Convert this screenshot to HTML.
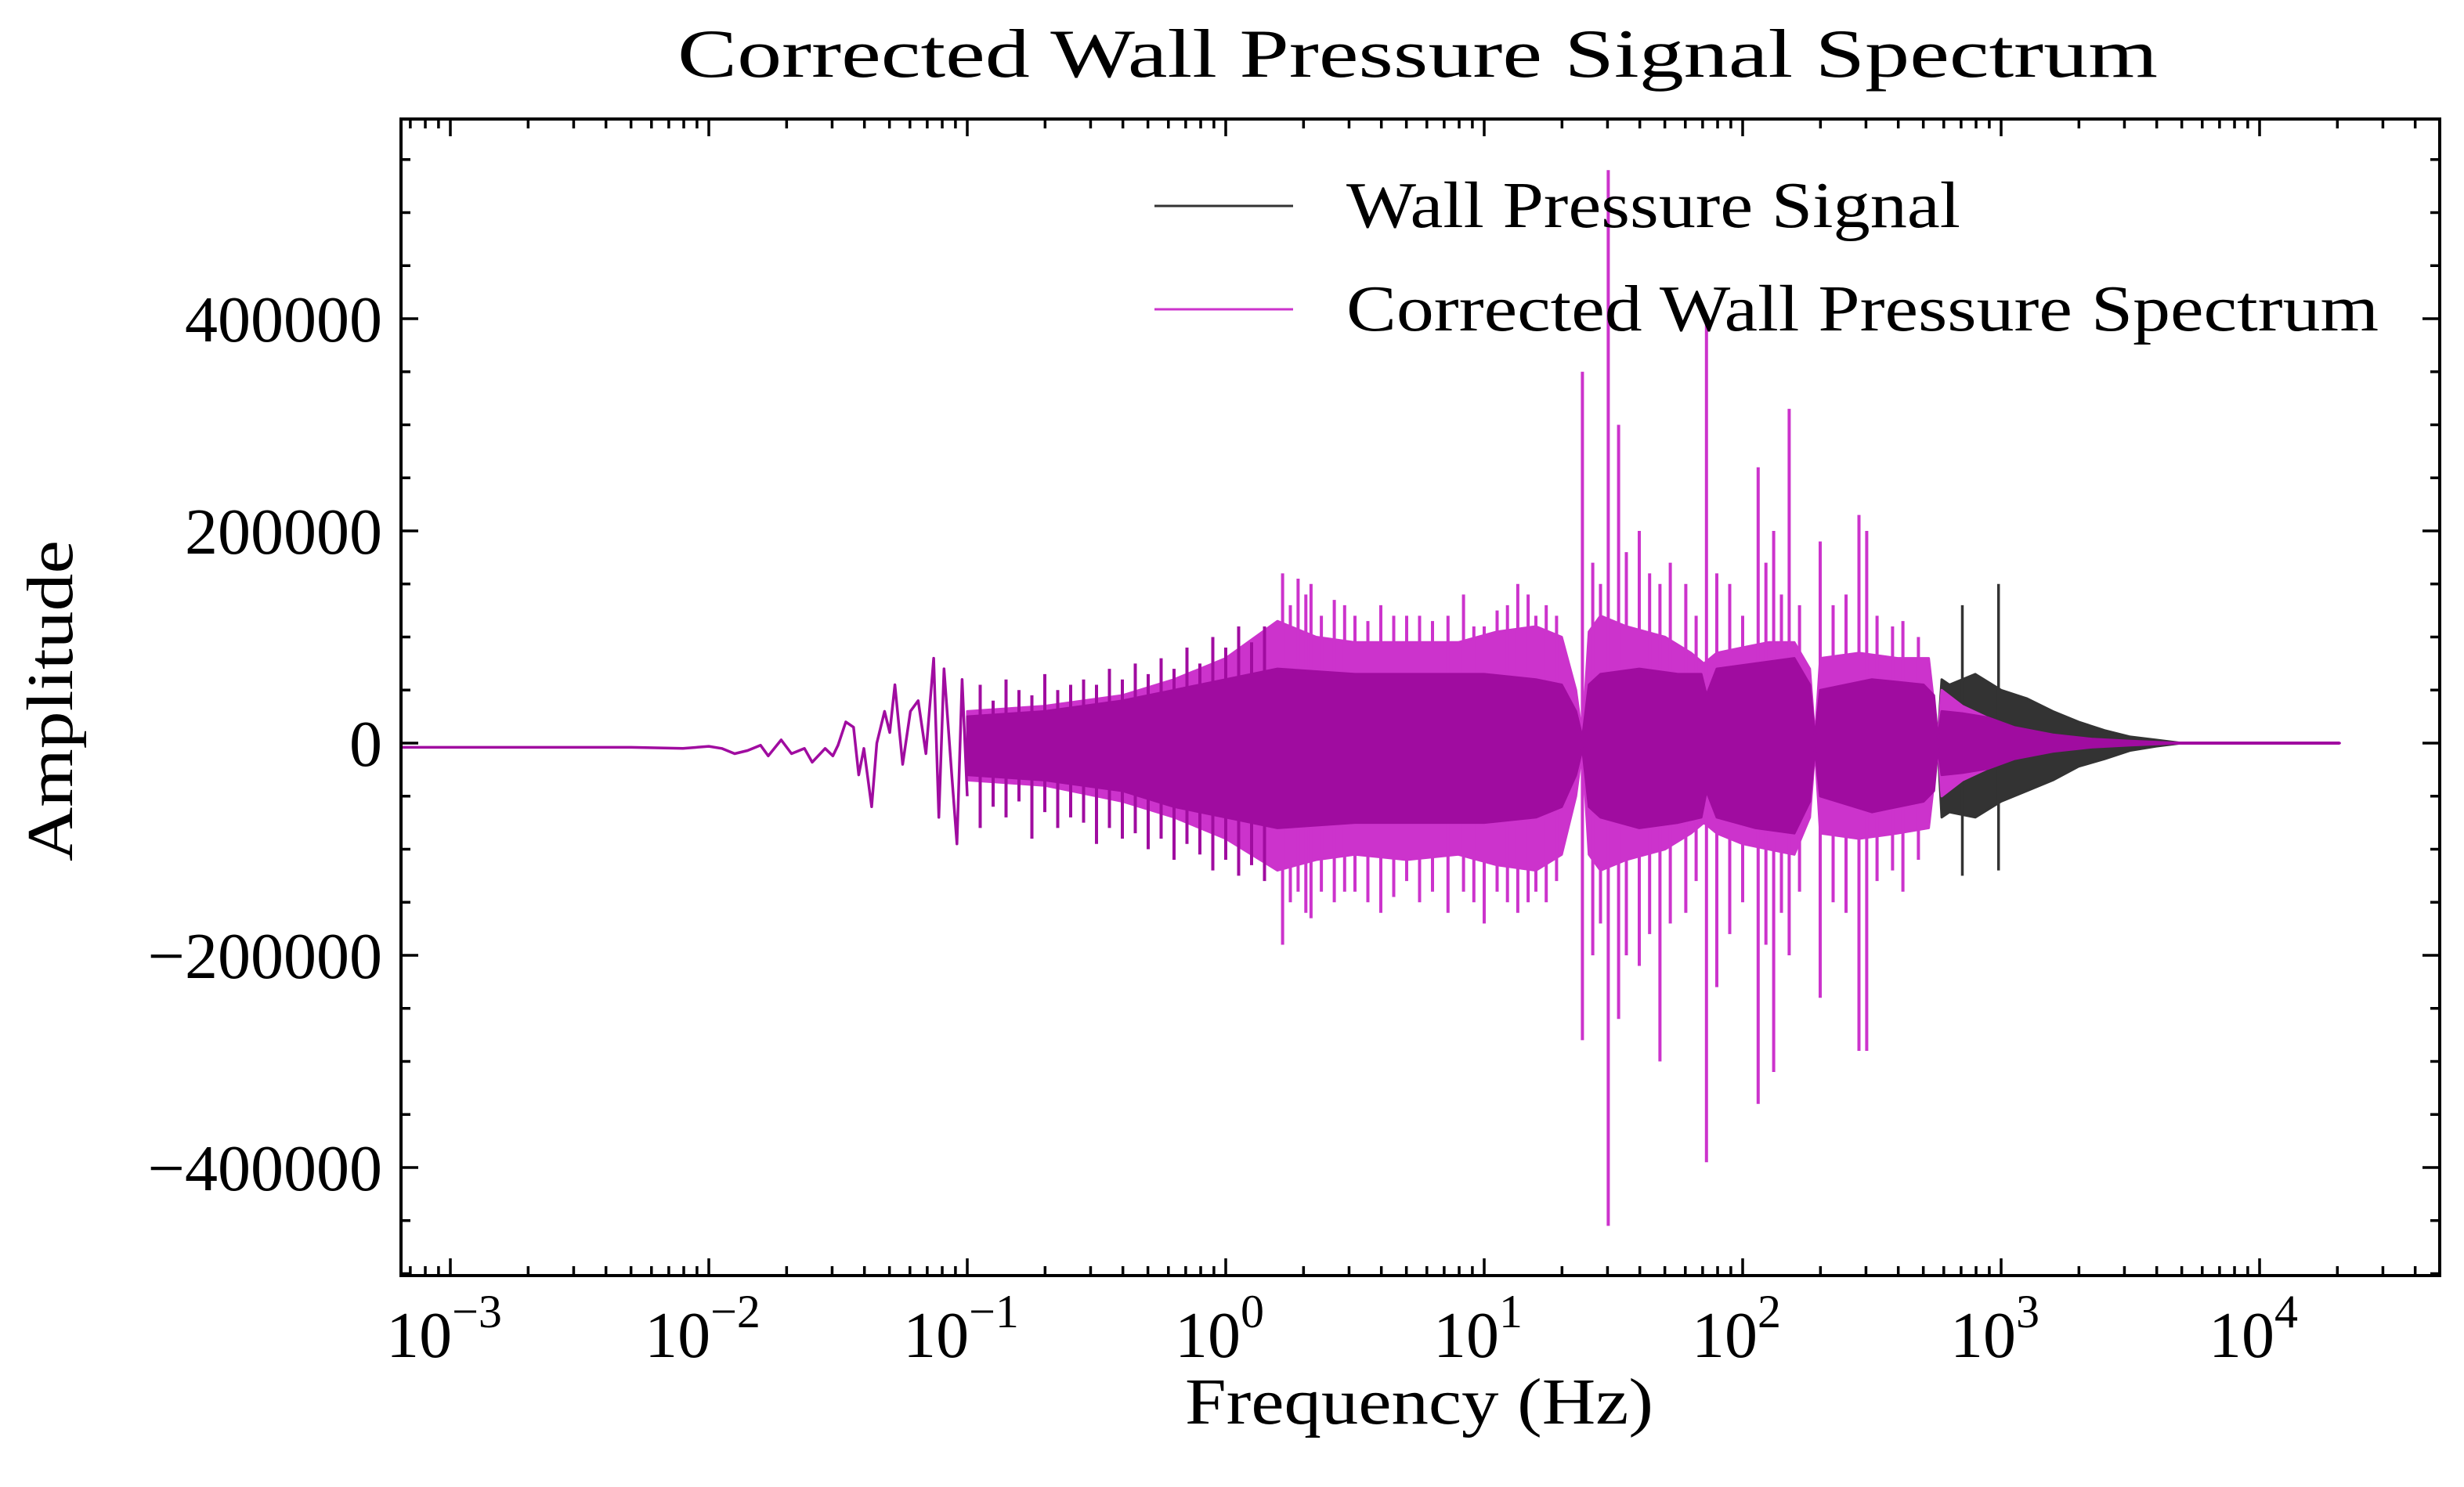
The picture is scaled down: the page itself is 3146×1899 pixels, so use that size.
<!DOCTYPE html>
<html><head><meta charset="utf-8"><style>
html,body{margin:0;padding:0;background:#fff;}
svg{display:block;}
text{font-family:"Liberation Serif",serif;fill:#000;}
</style></head><body>
<svg id="chart" width="3146" height="1899" viewBox="0 0 3146 1899" xmlns="http://www.w3.org/2000/svg">
<rect width="3146" height="1899" fill="#fff"/>
<g id="plot"></g>
<g id="axes"></g>
<text x="1810" y="98" font-size="88" text-anchor="middle" textLength="1890" lengthAdjust="spacingAndGlyphs">Corrected Wall Pressure Signal Spectrum</text>
<text x="1812" y="1818" font-size="84" text-anchor="middle" textLength="598" lengthAdjust="spacingAndGlyphs">Frequency (Hz)</text>
<text x="0" y="0" font-size="84" text-anchor="middle" textLength="410" lengthAdjust="spacingAndGlyphs" transform="translate(92,895) rotate(-90)">Amplitude</text>
<g>
  <line x1="1474" y1="263" x2="1651" y2="263" stroke="#333" stroke-width="3"/>
  <text x="1719" y="290" font-size="84" textLength="784" lengthAdjust="spacingAndGlyphs">Wall Pressure Signal</text>
  <line x1="1474" y1="395" x2="1651" y2="395" stroke="#cc33cc" stroke-width="3"/>
  <text x="1719" y="422" font-size="84" textLength="1318" lengthAdjust="spacingAndGlyphs">Corrected Wall Pressure Spectrum</text>
</g>
</svg>
<script>
// ---- data (log10 frequency, amplitude in thousands) ----
const lowLogF = [-3.19,-2.3,-2.1,-2.0,-1.95,-1.9,-1.85,-1.8,-1.77,-1.72,-1.68,-1.63,-1.6,-1.55,-1.52,-1.5,-1.47,-1.44,-1.42,-1.4,-1.37,-1.35,-1.32,-1.3,-1.28,-1.25,-1.22,-1.19,-1.16,-1.13,-1.11,-1.09,-1.06,-1.04,-1.02,-1.0];
const lowVal  = [-4,-4,-5,-3,-5,-10,-7,-2,-12,3,-10,-5,-18,-5,-12,-2,20,15,-30,-5,-60,0,30,10,55,-20,30,40,-10,80,-70,70,-30,-95,60,-50];

const outerLogF = [-1.0,-0.7,-0.4,-0.2,0.0,0.2,0.35,0.5,0.7,0.9,1.05,1.2,1.3,1.355,1.38,1.405,1.45,1.55,1.7,1.8,1.85,1.9,2.0,2.1,2.2,2.26,2.28,2.3,2.45,2.6,2.72,2.755,2.77,2.85,3.0,3.15,3.3,3.45,3.6,4.31];
const outerHi   = [30,35,45,60,80,115,100,95,95,95,105,110,100,50,5,105,120,110,100,85,75,85,90,95,95,70,5,80,85,80,80,5,50,35,18,8,4,2,0,0];
const outerLo   = [-35,-40,-55,-70,-90,-120,-110,-105,-110,-105,-115,-120,-105,-50,-5,-105,-120,-110,-100,-85,-75,-85,-95,-100,-105,-70,-5,-85,-90,-85,-80,-5,-50,-35,-18,-8,-4,-2,0,0];

const coreLogF = [-1.0,-0.7,-0.4,-0.2,0.0,0.2,0.5,0.8,1.0,1.2,1.3,1.355,1.38,1.405,1.45,1.6,1.75,1.84,1.86,1.9,2.05,2.2,2.26,2.28,2.3,2.5,2.7,2.74,2.755,2.77,2.85,2.95,3.05,3.2,3.35,3.5,3.7,4.31];
const coreHi   = [25,30,40,50,60,70,65,65,65,60,55,30,5,55,65,70,65,65,45,70,75,80,55,5,50,60,55,45,5,30,28,24,15,8,4,2,0,0];
const coreLo   = [-30,-35,-45,-60,-70,-80,-75,-75,-75,-70,-60,-30,-5,-60,-70,-80,-75,-70,-45,-70,-80,-85,-55,-5,-50,-65,-55,-45,-5,-30,-28,-24,-15,-8,-4,-2,0,0];

const blackLogF = [2.755,2.77,2.8,2.9,3.0,3.1,3.2,3.3,3.4,3.5,3.6,3.7];
const blackHi   = [5,60,55,65,50,42,30,20,12,6,3,0];
const blackLo   = [-5,-70,-65,-70,-55,-45,-35,-22,-15,-7,-3,0];

const spikeLogF = [0.22,0.25,0.28,0.31,0.33,0.37,0.42,0.46,0.5,0.55,0.6,0.65,0.7,0.75,0.8,0.86,0.92,0.96,1.0,1.05,1.09,1.13,1.17,1.2,1.24,1.28,1.38,1.42,1.45,1.48,1.52,1.55,1.6,1.64,1.68,1.72,1.78,1.82,1.86,1.9,1.95,2.0,2.06,2.09,2.12,2.15,2.18,2.22,2.3,2.35,2.4,2.45,2.48,2.52,2.58,2.62,2.68];
const spikeHi   = [160,130,155,140,150,120,135,130,120,115,130,120,120,120,115,120,140,110,110,125,130,150,140,120,130,120,350,170,150,540,300,180,200,160,150,170,150,120,400,160,150,120,260,170,200,140,315,130,190,130,140,215,200,120,110,115,100];
const spikeLo   = [-190,-150,-140,-160,-165,-140,-150,-140,-140,-150,-160,-145,-130,-150,-140,-160,-140,-150,-170,-140,-150,-160,-150,-140,-150,-130,-280,-200,-170,-455,-260,-200,-210,-180,-300,-170,-160,-130,-395,-230,-180,-150,-340,-190,-310,-160,-200,-140,-240,-150,-160,-290,-290,-130,-120,-140,-110];

const coreSpikeLogF = [-0.95,-0.9,-0.85,-0.8,-0.75,-0.7,-0.65,-0.6,-0.55,-0.5,-0.45,-0.4,-0.35,-0.3,-0.25,-0.2,-0.15,-0.1,-0.05,0.0,0.05,0.1,0.15];
const coreSpikeHi   = [55,40,60,50,45,65,50,55,60,55,70,60,75,65,80,70,90,75,100,90,110,95,110];
const coreSpikeLo   = [-80,-60,-70,-55,-90,-65,-80,-70,-75,-95,-80,-90,-85,-100,-90,-110,-95,-105,-120,-110,-125,-115,-130];

const blackSpikeLogF = [2.85,2.99];
const blackSpikeHi   = [130,150];
const blackSpikeLo   = [-125,-120];

const yTickVals = [-400000,-200000,0,200000,400000];
const yTickLabels = ["\u2212400000","\u2212200000","0","200000","400000"];
const xTickExps = [-3,-2,-1,0,1,2,3,4];
const xTickLabels = ["\u22123","\u22122","\u22121","0","1","2","3","4"];

// ---- scales ----
const L=512, R=3115, T=152, B=1629;
const X0=1565, DEC=330;
function xs(lf){return X0+DEC*lf;}
const Y0=949, YS=271/200000;
function ys(v){return Y0 - v*YS;}
function ysk(k){return ys(k*1000);}

const NS="http://www.w3.org/2000/svg";
const plot=document.getElementById('plot');
const axes=document.getElementById('axes');
function mk(tag,attrs,parent){const e=document.createElementNS(NS,tag);for(const k in attrs)e.setAttribute(k,attrs[k]);parent.appendChild(e);return e;}

const defs=mk('defs',{},plot);
const cp=mk('clipPath',{id:'clip'},defs);
mk('rect',{x:L,y:T,width:R-L,height:B-T},cp);
const g=mk('g',{'clip-path':'url(#clip)'},plot);

function band(lf,hi,lo,color,name){
  let d='';
  for(let i=0;i<lf.length;i++) d+=(i?'L':'M')+xs(lf[i]).toFixed(1)+','+ysk(hi[i]).toFixed(1);
  for(let i=lf.length-1;i>=0;i--) d+='L'+xs(lf[i]).toFixed(1)+','+ysk(lo[i]).toFixed(1);
  d+='Z';
  const p=mk('path',{d:d,fill:color,stroke:color,'stroke-width':3,'stroke-linejoin':'round'},g);
  
  
}
function spikes(lf,hi,lo,color,name,w){
  for(let i=0;i<lf.length;i++){
    const ln=mk('line',{x1:xs(lf[i]),x2:xs(lf[i]),y1:ysk(hi[i]),y2:ysk(lo[i]),stroke:color,'stroke-width':w},g);
    
    
  }
}

band(blackLogF,blackHi,blackLo,'#333333','wall-pressure-band');
spikes(blackSpikeLogF,blackSpikeHi,blackSpikeLo,'#333333','wall-pressure-spike',3.5);
band(outerLogF,outerHi,outerLo,'#cc33cc','corrected-outer-band');
spikes(spikeLogF,spikeHi,spikeLo,'#cc33cc','corrected-spike',4);
band(coreLogF,coreHi,coreLo,'#a00ca0','overlap-core-band');
spikes(coreSpikeLogF,coreSpikeHi,coreSpikeLo,'#a00ca0','overlap-spike',4);
{
  let d='';
  for(let i=0;i<lowLogF.length;i++) d+=(i?'L':'M')+xs(lowLogF[i]).toFixed(1)+','+ysk(lowVal[i]).toFixed(1);
  const p=mk('path',{d:d,fill:'none',stroke:'#a00ca0','stroke-width':3.5,'stroke-linejoin':'round'},g);
  
  
}
{
  const p=mk('line',{x1:xs(3.6),x2:xs(4.31),y1:ys(0),y2:ys(0),stroke:'#a00ca0','stroke-width':4},g);
  
  
}

const fr=mk('rect',{x:L,y:T,width:R-L,height:B-T,fill:'none',stroke:'#000','stroke-width':4},axes);



const MAJ=22, MIN=12;
for(let e=-4;e<=4;e++){
  for(let m=1;m<10;m++){
    const lf=e+Math.log10(m);
    const x=xs(lf);
    if(x<L||x>R) continue;
    const len=(m===1)?MAJ:MIN;
    const t1=mk('line',{x1:x,x2:x,y1:B,y2:B-len,stroke:'#000','stroke-width':3.5},axes);
    
    
    const t2=mk('line',{x1:x,x2:x,y1:T,y2:T+len,stroke:'#000','stroke-width':3.5},axes);
    
    
  }
}
xTickExps.forEach((e,i)=>{
  const x=xs(e);
  const t=mk('text',{x:x-8,y:1733,'font-size':84,'text-anchor':'middle'},axes);
  
  
  t.textContent='10';
  const s=mk('tspan',{dy:-38,'font-size':60},t);
  s.textContent=xTickLabels[i];
});
for(let v=-500000;v<=550000;v+=50000){
  const y=ys(v);
  if(y<T||y>B) continue;
  const len=(v%200000===0)?MAJ:MIN;
  const t1=mk('line',{x1:L,x2:L+len,y1:y,y2:y,stroke:'#000','stroke-width':3.5},axes);
  
  
  const t2=mk('line',{x1:R,x2:R-len,y1:y,y2:y,stroke:'#000','stroke-width':3.5},axes);
  
  
}
yTickVals.forEach((v,i)=>{
  const t=mk('text',{x:488,y:ys(v)+29,'font-size':84,'text-anchor':'end'},axes);
  
  
  t.textContent=yTickLabels[i];
});
</script>
</body></html>
